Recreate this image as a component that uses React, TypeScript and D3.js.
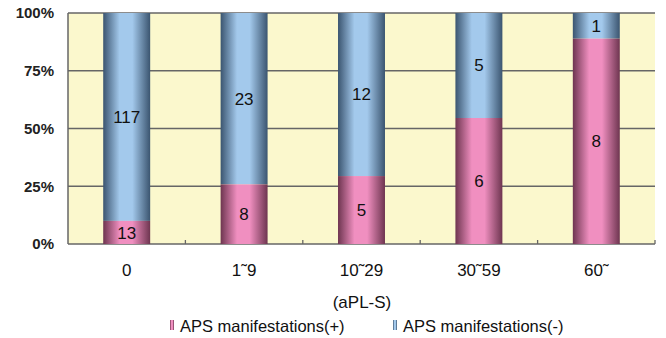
import React from "react";
import * as d3 from "d3";

const categories = ["0", "1˜9", "10˜29", "30˜59", "60˜"];
const positive = [13, 8, 5, 6, 8];
const negative = [117, 23, 12, 5, 1];
const yTicks = [0, 25, 50, 75, 100];
const seriesNames = ["APS manifestations(+)", "APS manifestations(-)"];
const axisTitle = "(aPL-S)";

const W = 666, H = 338;
const M = { left: 68, right: 11, top: 13, bottom: 94 };
const FONT = "'Liberation Sans', Arial, sans-serif";

export default function App() {
  const x = d3.scaleBand<string>().domain(categories).range([M.left, W - M.right]).paddingInner(0.6).paddingOuter(0.3);
  const y = d3.scaleLinear().domain([0, 100]).range([H - M.bottom, M.top]);
  const band = d3.scaleBand<string>().domain(categories).range([M.left, W - M.right]);
  const rows = categories.map((c, i) => {
    const total = positive[i] + negative[i];
    return { c, p: positive[i], n: negative[i], pp: (positive[i] / total) * 100 };
  });
  const stops = (dark: string, light: string) => [
    <stop key="a" offset="0%" stopColor={dark} />,
    <stop key="b" offset="35%" stopColor={light} />,
    <stop key="c" offset="62%" stopColor={light} />,
    <stop key="d" offset="100%" stopColor={dark} />,
  ];
  return (
    <svg width={W} height={H} style={{ position: "absolute", left: 0, top: 0, background: "#fff" }}>
      <defs>
        <linearGradient id="gb" x1="0" x2="1" y1="0" y2="0">{stops("#3b5570", "#a3c9ec")}</linearGradient>
        <linearGradient id="gp" x1="0" x2="1" y1="0" y2="0">{stops("#6e3550", "#f08fc0")}</linearGradient>
      </defs>
      <rect x={M.left} y={M.top} width={W - M.right - M.left} height={H - M.bottom - M.top} fill="#fbf8cd" />
      {yTicks.map((t) => (
        <g key={t}>
          <line x1={M.left} x2={W - M.right} y1={y(t)} y2={y(t)} stroke="#666" strokeWidth={1.3} />
          <text x={M.left - 14} y={y(t)} dy="0.35em" textAnchor="end" fontFamily={FONT} fontSize={15} fontWeight="bold" fill="#222">{t}%</text>
        </g>
      ))}
      <line x1={M.left} x2={M.left} y1={M.top} y2={y(0)} stroke="#666" strokeWidth={1.5} />
      {categories.map((c) => (
        <line key={c} x1={(band(c) as number) + band.bandwidth()} x2={(band(c) as number) + band.bandwidth()} y1={y(0) - 4} y2={y(0)} stroke="#666" strokeWidth={1.3} />
      ))}
      {rows.map((r) => {
        const bx = x(r.c) as number;
        const bw = x.bandwidth();
        return (
          <g key={r.c}>
            <rect x={bx} y={y(100)} width={bw} height={y(r.pp) - y(100)} fill="url(#gb)" />
            <rect x={bx} y={y(r.pp)} width={bw} height={y(0) - y(r.pp)} fill="url(#gp)" />
            <text x={bx + bw / 2} y={(y(r.pp) + y(100)) / 2} dy="0.35em" textAnchor="middle" fontFamily={FONT} fontSize={17} fill="#111">{r.n}</text>
            <text x={bx + bw / 2} y={(y(r.pp) + y(0)) / 2 + (r.pp < 15 ? 1 : 0)} dy="0.35em" textAnchor="middle" fontFamily={FONT} fontSize={17} fill="#111">{r.p}</text>
            <text x={bx + bw / 2} y={270} dy="0.35em" textAnchor="middle" fontFamily={FONT} fontSize={17} fill="#111">{r.c}</text>
          </g>
        );
      })}
      <text x={362} y={302} dy="0.35em" textAnchor="middle" fontFamily={FONT} fontSize={17} fill="#111">{axisTitle}</text>
      <rect x={170} y={320} width={4} height={10} fill="url(#gp)" />
      <text x={180} y={326} dy="0.35em" fontFamily={FONT} fontSize={16.5} fill="#111">{seriesNames[0]}</text>
      <rect x={393} y={320} width={4} height={10} fill="url(#gb)" />
      <text x={403} y={326} dy="0.35em" fontFamily={FONT} fontSize={16.5} fill="#111">{seriesNames[1]}</text>
    </svg>
  );
}
